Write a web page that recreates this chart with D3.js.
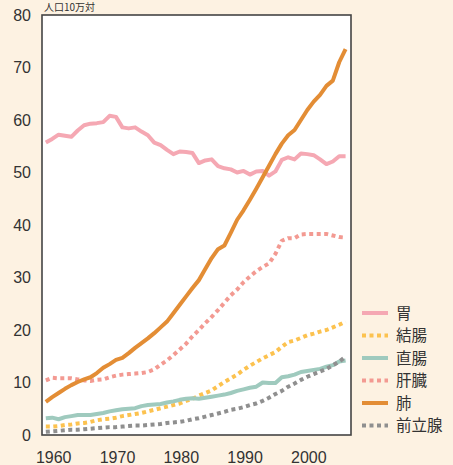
<!DOCTYPE html>
<html>
<head>
<meta charset="utf-8">
<script src="https://cdn.jsdelivr.net/npm/d3@7"></script>
<style>
  body { margin: 0; background: #fdf2e2; }
  svg { display: block; font-family: "Noto Sans CJK JP", "Liberation Sans", sans-serif; }
</style>
</head>
<body>
<div id="chart"></div>
<script>
var svgWidth = 453;
var svgHeight = 465;

var margin = { top: 15, right: 102, bottom: 30, left: 42 };
var width = svgWidth - margin.left - margin.right;
var height = svgHeight - margin.top - margin.bottom;

// data, one value per year 1959-2006
var years = d3.range(1959, 2007);
var xTicks = [1960, 1970, 1980, 1990, 2000];
var yTicks = [0, 10, 20, 30, 40, 50, 60, 70, 80];

var stomach = [55.7, 56.4, 57.2, 57.0, 56.8, 58.0, 59.0, 59.3, 59.4, 59.6,
  60.8, 60.6, 58.6, 58.4, 58.6, 57.8, 57.1, 55.7, 55.2, 54.3,
  53.5, 54.0, 53.9, 53.7, 51.8, 52.3, 52.5, 51.2, 50.8, 50.6,
  50.0, 50.3, 49.6, 50.2, 50.3, 49.4, 50.2, 52.4, 52.9, 52.5,
  53.6, 53.5, 53.3, 52.5, 51.6, 52.1, 53.1, 53.1];
var colon = [1.6, 1.6, 1.7, 1.9, 2.0, 2.2, 2.3, 2.5, 2.8, 3.0,
  3.1, 3.3, 3.6, 3.8, 4.0, 4.2, 4.5, 4.8, 5.1, 5.4,
  5.7, 6.0, 6.5, 6.9, 7.5, 8.0, 8.5, 9.3, 10.1, 10.8,
  11.5, 12.4, 13.2, 13.9, 14.6, 15.2, 15.8, 16.8, 17.7, 18.0,
  18.5, 19.0, 19.3, 19.7, 20.0, 20.5, 21.0, 21.6];
var rectum = [3.2, 3.3, 3.0, 3.4, 3.6, 3.8, 3.8, 3.8, 4.0, 4.2,
  4.5, 4.7, 4.9, 5.0, 5.1, 5.5, 5.7, 5.8, 5.9, 6.2,
  6.4, 6.7, 6.9, 7.0, 6.9, 7.1, 7.3, 7.5, 7.7, 8.0,
  8.4, 8.7, 9.0, 9.2, 10.0, 9.9, 9.9, 11.0, 11.2, 11.5,
  12.0, 12.2, 12.4, 12.6, 13.0, 13.3, 14.0, 14.2];
var liver = [10.4, 10.9, 10.8, 10.8, 10.8, 10.6, 10.4, 10.3, 10.5, 10.6,
  11.0, 11.3, 11.5, 11.6, 11.7, 11.8, 12.0, 12.5, 13.4, 14.2,
  15.2, 16.3, 17.4, 18.8, 20.0, 21.3, 22.5, 23.8, 25.2, 26.6,
  27.7, 29.1, 30.2, 31.2, 32.0, 32.7, 34.5, 37.0, 37.5, 37.5,
  38.2, 38.3, 38.3, 38.3, 38.3, 38.0, 37.7, 37.6];
var lung = [6.3, 7.2, 8.0, 8.8, 9.5, 10.1, 10.6, 11.0, 11.8, 12.8,
  13.5, 14.3, 14.7, 15.6, 16.6, 17.5, 18.4, 19.4, 20.5, 21.6,
  23.2, 24.8, 26.4, 28.0, 29.5, 31.6, 33.7, 35.4, 36.1, 38.5,
  41.0, 42.8, 44.8, 46.9, 49.1, 51.3, 53.5, 55.5, 57.1, 58.1,
  60.0, 61.9, 63.5, 64.8, 66.5, 67.5, 71.0, 73.5];
var prostate = [0.6, 0.7, 0.8, 0.9, 1.0, 1.0, 1.1, 1.2, 1.3, 1.4,
  1.5, 1.5, 1.6, 1.7, 1.8, 1.8, 1.9, 2.0, 2.1, 2.3,
  2.4, 2.5, 2.7, 3.0, 3.2, 3.5, 3.8, 4.1, 4.4, 4.8,
  5.0, 5.3, 5.7, 6.0, 6.5, 7.1, 7.8, 8.4, 9.2, 9.8,
  10.5, 11.1, 11.6, 12.1, 12.6, 13.3, 14.0, 14.9];

var seriesNames = ["胃", "結腸", "直腸", "肝臓", "肺", "前立腺"];
var seriesValues = [stomach, colon, rectum, liver, lung, prostate];
var seriesColors = ["#f5a8b3", "#fcc24f", "#9fcabe", "#f39a92", "#e38d35", "#8f8f8f"];
var seriesDotted = [false, true, false, true, false, true];

var svg = d3.select("#chart")
  .append("svg")
  .attr("width", svgWidth)
  .attr("height", svgHeight);

// unit label just above the plot frame
svg.append("text")
  .attr("x", 44)
  .attr("y", 11)
  .attr("font-size", 10)
  .attr("fill", "#333")
  .text("人口10万対");

var chartGroup = svg.append("g")
  .attr("transform", `translate(${margin.left}, ${margin.top})`);

var xLinearScale = d3.scaleLinear()
  .domain([1958.4, 2006.85])
  .range([0, width]);

var yLinearScale = d3.scaleLinear()
  .domain([0, 80])
  .range([height, 0]);

chartGroup.append("rect")
  .attr("width", width)
  .attr("height", height)
  .attr("fill", "#fff");

var line = d3.line()
  .x(d => xLinearScale(d.year))
  .y(d => yLinearScale(d.value));

seriesValues.forEach(function(values, i) {
  var data = years.map((yr, j) => ({ year: yr, value: values[j] }));
  chartGroup.append("path")
    .datum(data)
    .attr("fill", "none")
    .attr("stroke", seriesColors[i])
    .attr("stroke-width", 4)
    .attr("stroke-linejoin", "round")
    .attr("stroke-dasharray", seriesDotted[i] ? "4,3.5" : null)
    .attr("d", line);
});

chartGroup.append("rect")
  .attr("width", width)
  .attr("height", height)
  .attr("fill", "none")
  .attr("stroke", "#444")
  .attr("stroke-width", 1.6);

var bottomAxis = d3.axisBottom(xLinearScale).tickValues(xTicks).tickFormat(d3.format("d")).tickSize(0);
var leftAxis = d3.axisLeft(yLinearScale).tickValues(yTicks).tickSize(0);

var xAxis = chartGroup.append("g")
  .attr("transform", `translate(0, ${height})`)
  .call(bottomAxis);
xAxis.select(".domain").remove();
xAxis.selectAll("text")
  .attr("dy", "1.55em")
  .attr("x", 1)
  .attr("font-size", 16)
  .attr("font-family", "Liberation Sans, sans-serif")
  .attr("fill", "#333");

var yAxis = chartGroup.append("g").call(leftAxis);
yAxis.select(".domain").remove();
yAxis.selectAll("text")
  .attr("x", -11)
  .attr("font-size", 16)
  .attr("font-family", "Liberation Sans, sans-serif")
  .attr("fill", "#333");

// legend
var legend = svg.append("g")
  .attr("transform", "translate(362, 313)");

seriesNames.forEach(function(name, i) {
  var row = legend.append("g").attr("transform", `translate(0, ${i * 22.5})`);
  row.append("line")
    .attr("x1", 0).attr("x2", 26)
    .attr("stroke", seriesColors[i])
    .attr("stroke-width", 4)
    .attr("stroke-dasharray", seriesDotted[i] ? "4,3.5" : null);
  row.append("text")
    .attr("x", 34)
    .attr("dy", "0.36em")
    .attr("font-size", 15.5)
    .attr("fill", "#333")
    .text(name);
});
</script>
</body>
</html>
